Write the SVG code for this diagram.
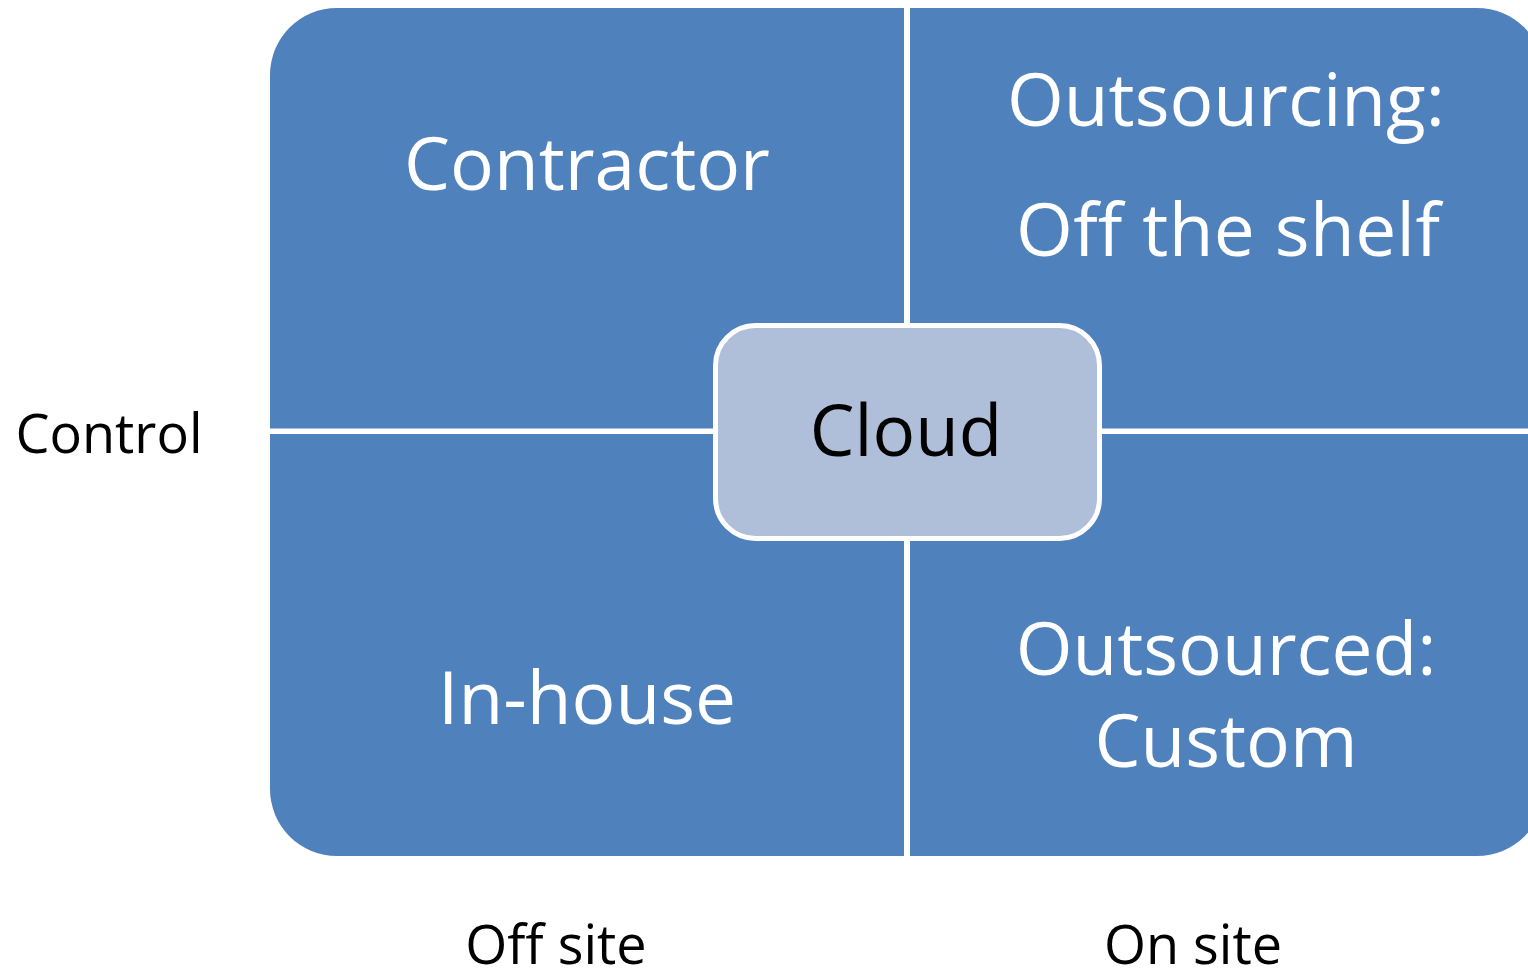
<svg xmlns="http://www.w3.org/2000/svg" width="1528" height="979" viewBox="0 0 1528 979">
  <style>
    .quad { fill: #4F81BD; }
    .qtext { font-family: "Open Sans", "Noto Sans", "Liberation Sans", sans-serif; font-size: 73px; fill: #FFFFFF; text-anchor: middle; }
    .center { fill: #AFBED9; stroke: #FFFFFF; stroke-width: 5; }
    .ctext { font-family: "Open Sans", "Noto Sans", "Liberation Sans", sans-serif; font-size: 71px; fill: #000000; text-anchor: middle; }
    .axis { font-family: "Open Sans", "Noto Sans", "Liberation Sans", sans-serif; font-size: 54px; fill: #000000; text-anchor: middle; }
  </style>
  <rect width="1528" height="979" fill="#FFFFFF"/>

  <!-- four quadrants, each rounded on its outer corner -->
  <g id="quad-contractor">
    <path class="quad" d="M270 75 A67 67 0 0 1 337 8 L904 8 L904 428.5 L270 428.5 Z"/>
    <text class="qtext" x="587" y="190">Contractor</text>
  </g>
  <g id="quad-outsourcing">
    <path class="quad" d="M910 8 L1477 8 A67 67 0 0 1 1544 75 L1544 428.5 L910 428.5 Z"/>
    <text class="qtext" x="1226" y="126">Outsourcing:</text>
    <text class="qtext" x="1228" y="256" textLength="424" lengthAdjust="spacing">Off the shelf</text>
  </g>
  <g id="quad-inhouse">
    <path class="quad" d="M270 434 L904 434 L904 856 L337 856 A67 67 0 0 1 270 789 Z"/>
    <text class="qtext" x="587" y="724">In-house</text>
  </g>
  <g id="quad-outsourced">
    <path class="quad" d="M910 434 L1544 434 L1544 789 A67 67 0 0 1 1477 856 L910 856 Z"/>
    <text class="qtext" x="1226" y="675">Outsourced:</text>
    <text class="qtext" x="1226" y="767">Custom</text>
  </g>

  <!-- centre box -->
  <g id="cloud">
    <rect class="center" x="715.5" y="325.5" width="384" height="213" rx="40" ry="40"/>
    <text class="ctext" x="906" y="456">Cloud</text>
  </g>

  <!-- axis labels -->
  <g id="label-control">
    <text class="axis" x="109" y="453">Control</text>
  </g>
  <g id="label-offsite">
    <text class="axis" x="556" y="964">Off site</text>
  </g>
  <g id="label-onsite">
    <text class="axis" x="1193" y="964">On site</text>
  </g>

  <g id="connectors"/>
</svg>
